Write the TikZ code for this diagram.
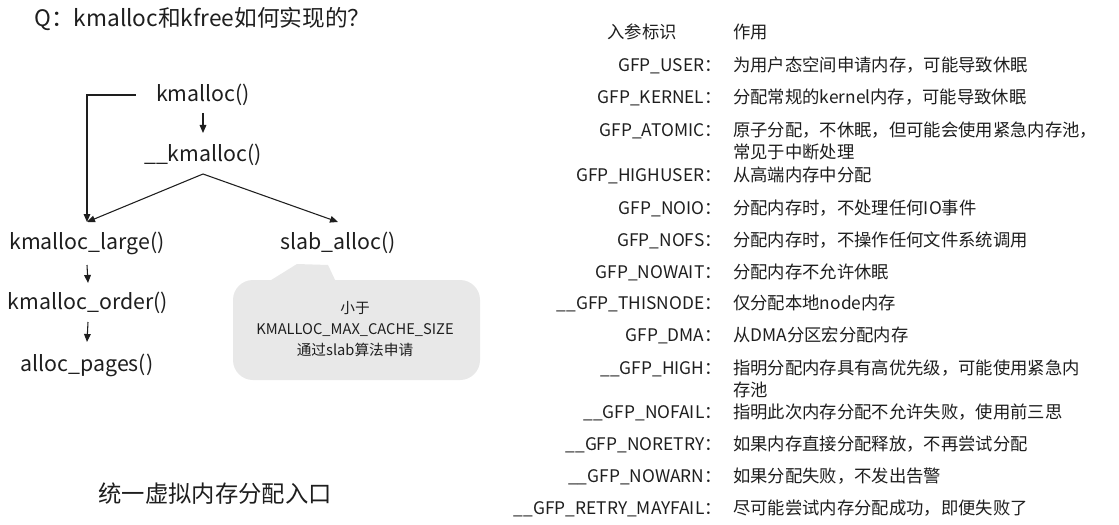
\documentclass[tikz,border=0pt]{standalone}
\usepackage{fontspec}
\setmainfont{Noto Sans CJK SC}
\usetikzlibrary{arrows.meta}
\definecolor{ink}{HTML}{1E1E1E}
\definecolor{bubble}{HTML}{E8E8E8}
\begin{document}
\begin{tikzpicture}[x=0.75pt,y=-0.75pt,
  every node/.style={text=ink,inner sep=0pt},
  fn/.style={font=\fontsize{16}{19}\selectfont},
  lbl/.style={anchor=base east,font=\fontsize{13}{16.5}\selectfont},
  desc/.style={anchor=base west,align=left,font=\fontsize{13}{16.5}\selectfont},
  arr/.style={draw=ink,line width=0.8pt,-{Triangle[length=6pt,width=5pt]}},
  ln/.style={draw=ink,line width=0.8pt}]
\useasboundingbox[fill=white] (0,0) rectangle (1119,524);

% title
\node[anchor=west,font=\fontsize{17}{20}\selectfont] (title) at (34,19) {Q：kmalloc和kfree如何实现的？};

% left diagram
\node[fn] (k) at (203,95) {kmalloc()};
\node[fn] (k2) at (203,155) {\_\_kmalloc()};
\node[fn] (large) at (87,243) {kmalloc\_large()};
\node[fn] (slab) at (338,243) {slab\_alloc()};
\node[fn] (order) at (88,303) {kmalloc\_order()};
\node[fn] (pages) at (87,365) {alloc\_pages()};

\coordinate (split) at ([yshift=-14.25pt]k2.center);
\draw[arr] ([yshift=-13.5pt]k.center) -- ([yshift=16.5pt]k2.center);
\draw[arr] (split) -- ([yshift=15.75pt]large.center);
\draw[arr] (split) -- ([yshift=15.75pt]slab.center);
\draw[arr] ([xshift=-15pt]k.west) -| ([yshift=15.75pt]large.center);
\draw[arr] ([yshift=-16.5pt]large.center) -- ([yshift=15pt]order.center);
\draw[arr] ([yshift=-14.25pt]order.center) -- ([yshift=17.25pt]pages.center);

% callout bubble
\fill[bubble,rounded corners=15] (233,280) rectangle (480,380);
\fill[bubble] (268,282) -- (297,264) -- (328,265) -- (336,282) -- cycle;
\node[align=center,font=\fontsize{11}{15.5}\selectfont] (note) at (355,329)
  {小于\\KMALLOC\_MAX\_CACHE\_SIZE\\通过slab算法申请};

% bottom caption
\node[font=\fontsize{17.5}{20}\selectfont] (cap) at (215,494) {统一虚拟内存分配入口};

% right table
\node[lbl] (h1) at (677,39) {入参标识};
\node[desc] (h2) at (733,39) {作用};
\node[lbl] (l1) at (722,72) {GFP\_USER：};
\node[desc] (d1) at (733,72) {为用户态空间申请内存，可能导致休眠};
\node[lbl] (l2) at (722,104) {GFP\_KERNEL：};
\node[desc] (d2) at (733,104) {分配常规的kernel内存，可能导致休眠};
\node[lbl] (l3) at (722,137) {GFP\_ATOMIC：};
\node[desc] (d3) at (733,158) {原子分配，不休眠，但可能会使用紧急内存池，\\常见于中断处理};
\node[lbl] (l4) at (722,181) {GFP\_HIGHUSER：};
\node[desc] (d4) at (733,181) {从高端内存中分配};
\node[lbl] (l5) at (722,214) {GFP\_NOIO：};
\node[desc] (d5) at (733,214) {分配内存时，不处理任何IO事件};
\node[lbl] (l6) at (722,246) {GFP\_NOFS：};
\node[desc] (d6) at (733,246) {分配内存时，不操作任何文件系统调用};
\node[lbl] (l7) at (722,278) {GFP\_NOWAIT：};
\node[desc] (d7) at (733,278) {分配内存不允许休眠};
\node[lbl] (l8) at (722,309) {\_\_GFP\_THISNODE：};
\node[desc] (d8) at (733,309) {仅分配本地node内存};
\node[lbl] (l9) at (722,341) {GFP\_DMA：};
\node[desc] (d9) at (733,341) {从DMA分区宏分配内存};
\node[lbl] (l10) at (722,374) {\_\_GFP\_HIGH：};
\node[desc] (d10) at (733,396) {指明分配内存具有高优先级，可能使用紧急内\\存池};
\node[lbl] (l11) at (722,418) {\_\_GFP\_NOFAIL：};
\node[desc] (d11) at (733,418) {指明此次内存分配不允许失败，使用前三思};
\node[lbl] (l12) at (722,450) {\_\_GFP\_NORETRY：};
\node[desc] (d12) at (733,450) {如果内存直接分配释放，不再尝试分配};
\node[lbl] (l13) at (722,482) {\_\_GFP\_NOWARN：};
\node[desc] (d13) at (733,482) {如果分配失败，不发出告警};
\node[lbl] (l14) at (722,514) {\_\_GFP\_RETRY\_MAYFAIL：};
\node[desc] (d14) at (733,514) {尽可能尝试内存分配成功，即便失败了};
\end{tikzpicture}
\end{document}
